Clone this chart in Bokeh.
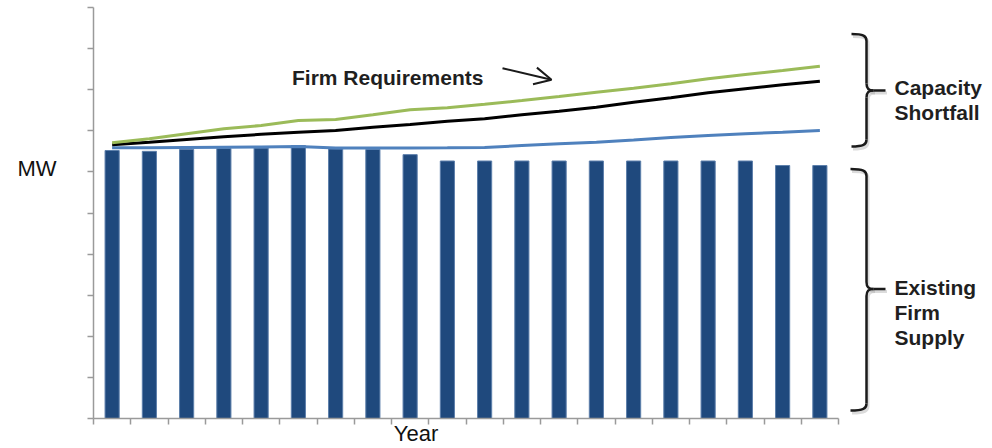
from bokeh.plotting import figure
from bokeh.models import Range1d, FixedTicker, Label, Arrow, OpenHead, CustomJSTickFormatter
from bokeh.embed import file_html
from bokeh.resources import INLINE

# ---------------- data ----------------
years = [f"Y{i}" for i in range(1, 21)]
existing_firm_supply = [6520, 6500, 6545, 6570, 6580, 6640, 6560, 6545, 6420, 6265,
                        6265, 6265, 6265, 6265, 6265, 6265, 6265, 6265, 6155, 6155]
req_high = [6708, 6805, 6927, 7049, 7129, 7251, 7275, 7389, 7511, 7560,
            7647, 7737, 7835, 7939, 8036, 8144, 8265, 8370, 8467, 8572]
req_base = [6659, 6720, 6790, 6855, 6915, 6966, 7007, 7087, 7153, 7234,
            7292, 7389, 7477, 7574, 7696, 7803, 7925, 8022, 8119, 8207]
req_low = [6586, 6589, 6594, 6601, 6606, 6618, 6582, 6582, 6582, 6586,
           6594, 6642, 6684, 6723, 6776, 6837, 6886, 6927, 6966, 7007]
y_ticks = [0, 1000, 2000, 3000, 4000, 5000, 6000, 7000, 8000, 9000, 10000]
x_axis_title = "Year"
y_axis_title = "MW"

# ---------------- layout ----------------
W, H = 992, 448
FL, FR, FT, FB = 93, 992, 7, 418          # frame edges in pixels
AXIS_RIGHT = 838                          # where the category axis ends
n = len(years)
X_END = n * (FR - FL) / (AXIS_RIGHT - FL)
Y_MAX = y_ticks[-1]


def px2x(px):
    return (px - FL) / (FR - FL) * X_END


def px2y(py):
    return (FB - py) / (FB - FT) * Y_MAX


xs = [i + 0.5 for i in range(n)]

p = figure(width=W, height=H, output_backend="svg", toolbar_location=None,
           x_range=Range1d(0, X_END), y_range=Range1d(0, Y_MAX),
           min_border_left=FL, min_border_right=W - FR,
           min_border_top=FT, min_border_bottom=H - FB)
p.outline_line_color = None
p.grid.visible = False
p.background_fill_color = "white"
p.border_fill_color = "white"

AX = "#9a9a9a"
# tick marks are drawn as minor ticks; the single major tick carries the axis title
p.xaxis.ticker = FixedTicker(ticks=[px2x(415.5)], minor_ticks=list(range(0, n + 1)))
p.xaxis.bounds = (0, n)
p.xaxis.formatter = CustomJSTickFormatter(code="return '%s'" % x_axis_title)
p.xaxis.major_label_standoff = -4
p.yaxis.ticker = FixedTicker(ticks=[px2y(167.7)], minor_ticks=y_ticks)
p.yaxis.bounds = (0, Y_MAX)
p.yaxis.formatter = CustomJSTickFormatter(code="return '%s'" % y_axis_title)
p.yaxis.major_label_standoff = 31
for ax in (p.xaxis[0], p.yaxis[0]):
    ax.axis_line_color = AX
    ax.axis_line_width = 1.5
    ax.major_tick_line_color = None
    ax.major_tick_in = 0
    ax.major_tick_out = 0
    ax.minor_tick_line_color = AX
    ax.minor_tick_line_width = 1.5
    ax.minor_tick_in = 0
    ax.minor_tick_out = 6
    ax.major_label_text_font = "Liberation Sans"
    ax.major_label_text_font_size = "22px"
    ax.major_label_text_color = "#111111"

# bars
p.vbar(x=xs, top=existing_firm_supply, width=0.38, bottom=0,
       fill_color="#1F497D", line_color="#5d7fab", line_width=1)

# lines
p.line(xs, req_low, line_color="#4F81BD", line_width=3)
p.line(xs, req_base, line_color="#000000", line_width=3)
p.line(xs, req_high, line_color="#9BBB59", line_width=3)

# ---------------- braces ----------------
def brace(x_hook, x_mid, x_tip, y_top, y_tip, y_bot, r, color, width, alpha, dx=0, dy=0):
    bz = [
        (x_hook, y_top, x_mid, y_top + r, x_mid - 3, y_top, x_mid, y_top + 2),
        (x_mid, y_tip - r, x_mid + r, y_tip, x_mid, y_tip - 2, x_mid + 2, y_tip),
        (x_mid + r, y_tip, x_mid, y_tip + r, x_mid + 2, y_tip, x_mid, y_tip + 2),
        (x_mid, y_bot - r, x_hook, y_bot, x_mid, y_bot - 2, x_mid - 3, y_bot),
    ]
    sg = [
        (x_mid, y_top + r, x_mid, y_tip - r),
        (x_mid + r, y_tip, x_tip, y_tip),
        (x_mid, y_tip + r, x_mid, y_bot - r),
    ]
    p.bezier(x0=[px2x(b[0] + dx) for b in bz], y0=[px2y(b[1] + dy) for b in bz],
             x1=[px2x(b[2] + dx) for b in bz], y1=[px2y(b[3] + dy) for b in bz],
             cx0=[px2x(b[4] + dx) for b in bz], cy0=[px2y(b[5] + dy) for b in bz],
             cx1=[px2x(b[6] + dx) for b in bz], cy1=[px2y(b[7] + dy) for b in bz],
             line_color=color, line_width=width, line_alpha=alpha)
    p.segment(x0=[px2x(s[0] + dx) for s in sg], y0=[px2y(s[1] + dy) for s in sg],
              x1=[px2x(s[2] + dx) for s in sg], y1=[px2y(s[3] + dy) for s in sg],
              line_color=color, line_width=width, line_alpha=alpha)


for args in [(851, 866, 885, 33.5, 90, 146), (850, 866, 885, 168.5, 288.5, 410)]:
    brace(*args, r=7, color="#999999", width=3, alpha=0.35, dx=1.5, dy=2.5)
    brace(*args, r=7, color="#1a1a1a", width=2.5, alpha=1)

# ---------------- text ----------------
TXT = "#1f1f1f"
def label(text, px, py, size, bold=False, color=TXT):
    p.add_layout(Label(x=px2x(px), y=px2y(py), text=text, text_font="Liberation Sans",
                       text_font_size=size, text_font_style="bold" if bold else "normal",
                       text_color=color, text_align="left", text_baseline="alphabetic"))

label("Firm Requirements", 291.5, 76.5, "21px", bold=True)
label("Capacity", 894, 87.3, "21px", bold=True)
label("Shortfall", 894, 111.7, "21px", bold=True)
label("Existing", 894, 286.7, "21px", bold=True)
label("Firm", 894, 312, "21px", bold=True)
label("Supply", 894, 336.7, "21px", bold=True)

p.add_layout(Arrow(end=OpenHead(size=17, line_width=2, line_color="#1a1a1a"),
                   x_start=px2x(502), y_start=px2y(67.7), x_end=px2x(551), y_end=px2y(79.3),
                   line_width=2, line_color="#1a1a1a"))

open("out.html", "w").write(file_html(p, INLINE))
